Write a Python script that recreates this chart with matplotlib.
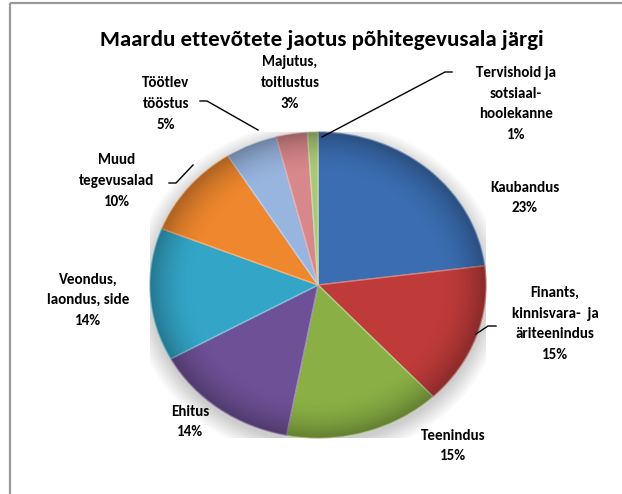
import numpy as np
import matplotlib
matplotlib.use("Agg")
import matplotlib.pyplot as plt
from matplotlib.patches import Circle, Ellipse
import matplotlib.colors as mcolors

# ---- data ----
categories = ["Kaubandus", "Finants,\nkinnisvara-  ja\näriteenindus", "Teenindus", "Ehitus",
              "Veondus,\nlaondus, side", "Muud\ntegevusalad", "Töötlev\ntööstus",
              "Majutus,\ntoitlustus", "Tervishoid ja\nsotsiaal-\nhoolekanne"]
values = [23, 15, 15, 14, 14, 10, 5, 3, 1]
colors = ["#3A6DB1", "#BE3B3A", "#8AB045", "#6E5096", "#33A6C8", "#EE872D",
          "#98B5E0", "#D8878A", "#AAC878"]
title = "Maardu ettevõtete jaotus põhitegevusala järgi"

# label positions in figure pixels (x, y from top)
label_pos = [(525, 198), (555, 324), (453, 446), (190, 422), (88, 300), (117, 181),
             (166, 104), (290, 83), (516, 104)]
leaders = [None, [(476, 334), (488, 326), (496, 326)], None, None, None,
           [(193, 165), (176, 183), (169, 183)],
           [(258, 130), (207, 101), (200, 101)], None,
           [(322, 137), (445, 72), (452, 72)]]

W, H = 622, 494
fig = plt.figure(figsize=(W / 100, H / 100), dpi=100)
fig.patch.set_facecolor("white")

FONT = ["Carlito", "Lato", "DejaVu Sans"]

# pie geometry (pixels)
cx, cy, rx, ry = 318, 285, 168, 153
pie_ax = fig.add_axes([(cx - rx) / W, (H - (cy + ry)) / H, 2 * rx / W, 2 * ry / H])
pie_ax.set_xlim(-1, 1)
pie_ax.set_ylim(-1, 1)
pie_ax.set_aspect("auto")
pie_ax.axis("off")

# soft shadow
for i in range(10):
    s = 1.0 + 0.012 * i
    e = Ellipse((0.0, -0.035), 2 * s, 2 * s, facecolor="black",
                alpha=0.02, edgecolor="none", zorder=0)
    pie_ax.add_patch(e)

def lighter(c, f):
    r, g, b = mcolors.to_rgb(c)
    return (r + (1 - r) * f, g + (1 - g) * f, b + (1 - b) * f)

wedges, _ = pie_ax.pie(values, colors=colors, startangle=90, counterclock=False,
                       radius=1.0, center=(0, 0), frame=False)
for w, c in zip(wedges, colors):
    w.set_edgecolor(lighter(c, 0.35))
    w.set_linewidth(1.0)
    w.set_zorder(2)
pie_ax.set_xlim(-1, 1)
pie_ax.set_ylim(-1, 1)

# shading overlay (rim darkening)
n = 400
xs = np.linspace(-1, 1, n)
X, Y = np.meshgrid(xs, xs)
R = np.sqrt(X ** 2 + Y ** 2)
img = np.zeros((n, n, 4))
img[..., 3] = np.clip((R - 0.72) / 0.28, 0, 1) ** 2 * 0.28
im = pie_ax.imshow(img, extent=(-1, 1, -1, 1), origin="lower", zorder=3,
                   interpolation="bilinear", aspect="auto")
clip = Circle((0, 0), 1.0, transform=pie_ax.transData)
im.set_clip_path(clip)

# overlay axes in pixel coordinates
ov = fig.add_axes([0, 0, 1, 1], zorder=5)
ov.set_xlim(0, W)
ov.set_ylim(H, 0)
ov.axis("off")
ov.patch.set_alpha(0)

# border (top and left only visible)
ov.plot([10, W], [3, 3], color="#9A9A9A", lw=1.6, solid_capstyle="butt")
ov.plot([10, 10], [3, H], color="#9A9A9A", lw=1.6, solid_capstyle="butt")

ov.text(322, 40, title, ha="center", va="center", fontsize=16.5,
        fontweight="bold", family=FONT, color="black")

total = sum(values)
for cat, v, (lx, ly), ld in zip(categories, values, label_pos, leaders):
    txt = f"{cat}\n{round(100 * v / total)}%"
    ov.text(lx, ly, txt, ha="center", va="center", fontsize=10.8,
            fontweight="bold", family=FONT, linespacing=1.6, color="black")
    if ld:
        xs_, ys_ = zip(*ld)
        ov.plot(xs_, ys_, color="black", lw=1.0)

fig.savefig("out.png", dpi=100, facecolor="white")
